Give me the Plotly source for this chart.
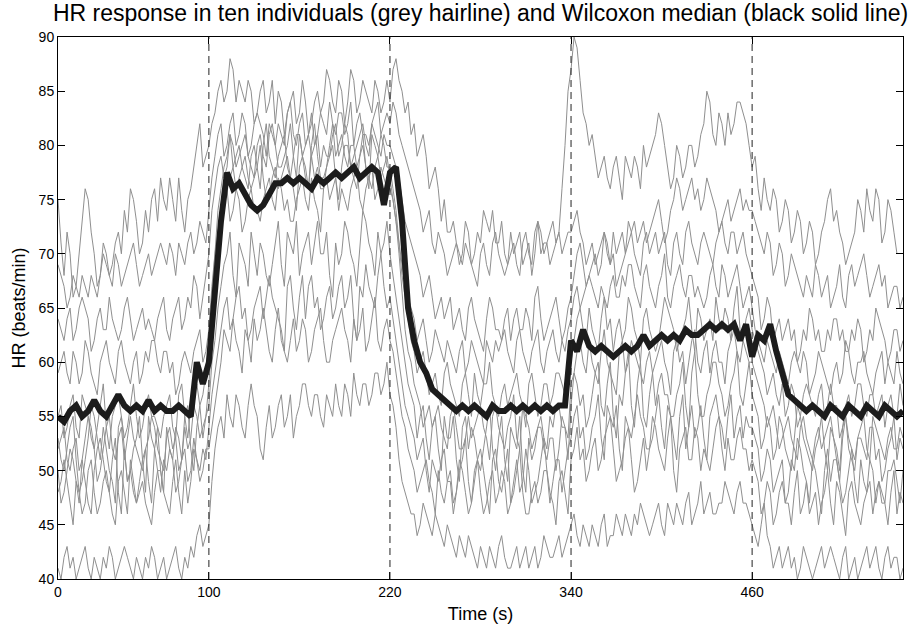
import plotly.graph_objects as go

# ---------------- data ----------------
time_s = list(range(0, 561, 2))          # individual sample times (s)
time_med = list(range(0, 561, 4))        # median sample times (s)
phase_bounds = [100, 220, 340, 460]      # dashed phase markers (s)
x_ticks = [0, 100, 220, 340, 460]
y_ticks = [40, 45, 50, 55, 60, 65, 70, 75, 80, 85, 90]

subj_a = [75, 71, 68, 72, 70, 66, 67, 70, 73, 76, 75, 72, 70, 67, 68, 71, 70, 68, 69, 71, 72, 70, 74, 72, 76, 75, 73, 70, 71, 74, 72, 75, 76, 73, 77, 75, 74, 77, 75, 73, 77, 74, 72, 75, 76, 78, 80, 82, 78, 79,
          80, 82, 83, 85, 86, 84, 85, 88, 87, 84, 86, 85, 84, 86, 85, 82, 83, 85, 86, 83, 84, 86, 82, 85, 84, 81, 83, 84, 85, 82, 83, 86, 84, 81, 82, 84, 85, 83, 84, 87, 86, 84, 83, 86, 85, 82, 84, 87, 86, 83, 84, 86, 85, 84, 83, 86, 85, 83, 84, 86,
          84, 87, 88, 86, 85, 83, 84, 81, 82, 79, 80, 81, 79, 76, 77, 78, 76, 73, 75, 72, 72, 73, 71, 69, 70, 73, 72, 69, 70, 72, 71, 74, 73, 72, 74, 71, 71, 73, 70, 69, 72, 70, 71, 72, 69, 70, 71, 68, 70, 73, 72, 70, 71, 72, 73, 71, 72, 76,
          80, 85, 87, 90, 89, 86, 83, 82, 80, 81, 79, 77, 78, 79, 77, 76, 78, 79, 77, 75, 79, 78, 77, 79, 78, 76, 80, 78, 79, 80, 81, 83, 82, 80, 78, 76, 77, 80, 79, 77, 78, 80, 80, 78, 79, 81, 82, 85, 84, 81, 80, 83, 82, 80, 83, 81, 82, 84, 84, 83,
          82, 80, 78, 79, 76, 74, 77, 75, 74, 76, 75, 72, 73, 75, 74, 71, 72, 74, 73, 70, 71, 73, 72, 69, 70, 72, 73, 75, 76, 73, 74, 72, 71, 69, 70, 71, 72, 75, 74, 72, 76, 74, 73, 76, 75, 71, 72, 75, 74, 72, 70]
subj_b = [69, 68, 67, 65, 66, 68, 67, 66, 68, 67, 66, 68, 67, 66, 68, 70, 69, 68, 67, 70, 69, 67, 68, 69, 70, 71, 69, 67, 68, 69, 70, 68, 69, 70, 71, 70, 69, 71, 70, 68, 71, 70, 69, 71, 72, 70, 71, 73, 72, 71,
          74, 77, 79, 81, 82, 79, 80, 82, 83, 80, 81, 83, 82, 79, 80, 82, 83, 82, 81, 79, 82, 81, 80, 82, 81, 80, 83, 84, 81, 80, 82, 83, 80, 81, 83, 80, 81, 83, 82, 81, 84, 82, 81, 83, 83, 81, 82, 84, 80, 82, 83, 81, 81, 80, 82, 83, 84, 81, 82, 83,
          82, 84, 83, 81, 80, 79, 78, 77, 76, 75, 74, 72, 73, 74, 71, 70, 72, 71, 70, 68, 69, 70, 71, 70, 69, 71, 70, 69, 68, 67, 70, 71, 69, 68, 71, 72, 70, 69, 68, 69, 70, 71, 69, 68, 71, 72, 70, 69, 72, 73, 70, 71, 71, 69, 70, 71, 72, 70, 71, 72,
          72, 73, 74, 72, 71, 69, 70, 71, 69, 70, 71, 72, 70, 69, 72, 70, 71, 72, 70, 71, 72, 73, 71, 72, 73, 71, 72, 73, 74, 75, 73, 71, 72, 74, 75, 77, 76, 74, 75, 76, 77, 75, 76, 74, 75, 77, 76, 75, 74, 72, 73, 74, 75, 73, 74, 75, 76, 74, 75, 74,
          74, 73, 72, 71, 70, 72, 71, 68, 69, 71, 70, 67, 68, 70, 69, 68, 67, 66, 68, 67, 66, 69, 68, 66, 67, 68, 65, 66, 67, 69, 66, 65, 68, 69, 67, 68, 69, 70, 68, 66, 67, 68, 69, 67, 68, 65, 66, 67, 67, 65, 66]
subj_c = [64, 63, 62, 64, 65, 62, 63, 65, 66, 65, 64, 61, 62, 64, 65, 63, 63, 66, 64, 63, 62, 63, 65, 66, 64, 62, 63, 64, 65, 63, 64, 63, 62, 64, 65, 66, 63, 62, 64, 65, 66, 63, 64, 66, 65, 68, 67, 64, 66, 68,
          70, 74, 76, 78, 79, 77, 78, 81, 80, 78, 79, 80, 81, 79, 78, 77, 80, 81, 79, 78, 81, 82, 80, 78, 78, 79, 80, 82, 79, 77, 81, 79, 80, 81, 79, 80, 81, 78, 80, 79, 79, 81, 82, 79, 80, 82, 81, 78, 79, 80, 81, 82, 80, 79, 82, 81, 80, 79, 81, 80,
          80, 79, 78, 77, 75, 73, 72, 71, 70, 69, 68, 66, 67, 68, 66, 64, 65, 66, 64, 65, 66, 63, 64, 65, 63, 62, 65, 66, 64, 63, 62, 61, 64, 66, 65, 63, 63, 62, 64, 65, 62, 64, 65, 63, 63, 65, 64, 62, 66, 67, 64, 62, 63, 64, 65, 66, 64, 62, 63, 65,
          66, 68, 70, 71, 69, 67, 68, 69, 70, 68, 69, 72, 71, 69, 70, 67, 68, 69, 70, 73, 72, 70, 69, 68, 71, 72, 70, 71, 72, 70, 71, 72, 69, 68, 71, 72, 70, 69, 72, 73, 71, 70, 69, 71, 72, 71, 70, 69, 71, 72, 73, 71, 70, 72, 72, 70, 71, 72, 70, 69,
          68, 67, 66, 63, 64, 66, 65, 62, 63, 64, 62, 63, 64, 62, 63, 60, 61, 63, 62, 65, 64, 62, 63, 61, 61, 63, 62, 64, 64, 62, 63, 61, 61, 63, 62, 64, 63, 60, 61, 63, 62, 65, 64, 63, 62, 60, 61, 63, 63, 61, 62]
subj_d = [59, 60, 61, 59, 58, 61, 60, 58, 59, 62, 61, 59, 58, 57, 60, 61, 62, 60, 59, 58, 61, 62, 60, 59, 58, 60, 61, 58, 59, 61, 60, 62, 62, 60, 59, 61, 61, 59, 60, 57, 58, 60, 61, 60, 59, 61, 62, 63, 60, 61,
          63, 67, 70, 72, 74, 75, 76, 73, 74, 76, 75, 72, 73, 75, 76, 74, 74, 73, 75, 76, 77, 75, 74, 77, 76, 74, 75, 73, 73, 75, 76, 77, 75, 74, 77, 75, 74, 72, 76, 77, 75, 76, 77, 74, 76, 75, 74, 76, 77, 78, 75, 74, 76, 77, 78, 75, 76, 78, 77, 76,
          76, 75, 73, 71, 69, 67, 66, 65, 64, 62, 63, 64, 62, 60, 61, 63, 62, 61, 60, 62, 61, 60, 59, 61, 62, 59, 60, 62, 61, 60, 59, 58, 62, 61, 60, 62, 61, 62, 63, 61, 60, 59, 62, 63, 61, 60, 59, 61, 62, 63, 60, 59, 61, 62, 63, 61, 60, 62, 61, 63,
          64, 66, 67, 65, 66, 67, 68, 67, 66, 65, 67, 66, 65, 67, 68, 66, 66, 68, 67, 69, 69, 67, 66, 65, 68, 69, 67, 66, 65, 67, 68, 70, 66, 65, 67, 68, 69, 67, 66, 68, 68, 66, 67, 66, 65, 66, 68, 69, 67, 66, 69, 68, 66, 67, 68, 69, 67, 65, 66, 67,
          65, 63, 62, 61, 60, 62, 61, 60, 59, 61, 60, 59, 58, 60, 61, 60, 59, 61, 60, 57, 58, 59, 61, 60, 59, 58, 57, 59, 60, 58, 59, 62, 61, 59, 58, 60, 60, 61, 59, 58, 57, 59, 60, 61, 58, 60, 59, 58, 61, 59, 58]
subj_e = [41, 40, 42, 43, 41, 42, 40, 41, 42, 43, 41, 40, 42, 41, 40, 42, 41, 43, 42, 40, 41, 42, 43, 42, 41, 40, 42, 41, 40, 42, 41, 43, 42, 40, 41, 42, 40, 41, 42, 43, 41, 40, 42, 41, 43, 42, 44, 45, 43, 44,
          45, 49, 52, 54, 55, 53, 57, 55, 54, 57, 56, 54, 53, 56, 58, 56, 55, 52, 51, 54, 56, 53, 54, 56, 57, 54, 55, 57, 53, 55, 56, 58, 58, 56, 55, 57, 57, 55, 54, 57, 56, 55, 58, 56, 55, 58, 57, 55, 59, 57, 56, 58, 58, 56, 57, 59, 59, 57, 58, 60,
          57, 56, 54, 51, 49, 48, 47, 46, 46, 44, 45, 47, 46, 45, 44, 46, 45, 44, 43, 45, 44, 43, 42, 44, 43, 42, 44, 43, 42, 41, 43, 42, 41, 43, 42, 41, 43, 44, 42, 41, 41, 42, 43, 41, 42, 43, 41, 42, 43, 41, 42, 44, 43, 42, 42, 43, 44, 42, 43, 44,
          45, 46, 44, 43, 45, 44, 43, 45, 44, 43, 45, 46, 43, 44, 44, 46, 45, 44, 46, 45, 44, 46, 45, 47, 46, 45, 44, 45, 46, 47, 45, 44, 47, 46, 45, 47, 46, 45, 47, 48, 45, 46, 47, 49, 46, 47, 48, 46, 46, 47, 47, 49, 48, 47, 46, 48, 49, 47, 47, 46,
          45, 44, 43, 45, 47, 44, 43, 41, 42, 43, 41, 42, 43, 41, 42, 40, 41, 43, 42, 41, 40, 41, 42, 43, 41, 42, 43, 42, 41, 40, 42, 43, 40, 41, 42, 40, 41, 42, 43, 41, 42, 43, 41, 40, 42, 43, 41, 42, 42, 40, 41]
subj_f = [53, 51, 50, 52, 54, 55, 51, 48, 49, 51, 53, 56, 55, 53, 51, 54, 52, 50, 49, 47, 54, 55, 52, 49, 50, 52, 53, 55, 51, 48, 55, 53, 52, 54, 50, 48, 54, 52, 51, 54, 53, 51, 55, 56, 52, 50, 54, 56, 53, 55,
          56, 60, 62, 65, 67, 69, 70, 72, 68, 66, 71, 70, 69, 67, 72, 70, 68, 71, 70, 68, 67, 69, 71, 73, 69, 67, 72, 71, 70, 73, 68, 70, 71, 72, 69, 71, 73, 70, 70, 72, 68, 66, 71, 69, 70, 73, 72, 70, 69, 67, 71, 74, 73, 71, 70, 68, 72, 70, 71, 73,
          70, 68, 66, 64, 62, 60, 58, 57, 56, 53, 55, 56, 53, 51, 54, 55, 52, 50, 55, 53, 53, 55, 51, 49, 54, 55, 52, 54, 53, 51, 50, 52, 54, 56, 52, 50, 53, 55, 51, 49, 54, 53, 52, 55, 50, 48, 53, 51, 52, 54, 54, 52, 51, 53, 53, 50, 52, 55, 54, 51,
          56, 59, 58, 56, 57, 54, 55, 57, 59, 60, 56, 55, 58, 60, 55, 53, 57, 56, 59, 61, 56, 54, 58, 60, 55, 54, 57, 59, 56, 58, 59, 57, 57, 55, 55, 57, 58, 60, 56, 54, 59, 61, 57, 55, 55, 57, 58, 60, 60, 58, 57, 55, 56, 58, 59, 61, 57, 56, 58, 60,
          57, 56, 55, 52, 53, 55, 54, 51, 52, 55, 54, 52, 51, 50, 53, 56, 55, 53, 52, 51, 50, 52, 53, 55, 52, 50, 54, 53, 51, 49, 53, 55, 52, 51, 50, 53, 53, 52, 51, 54, 54, 51, 52, 49, 50, 52, 53, 55, 51, 53, 52]
subj_g = [50, 47, 48, 50, 52, 51, 49, 47, 51, 49, 47, 46, 50, 52, 53, 51, 49, 48, 51, 53, 48, 46, 52, 49, 50, 48, 47, 49, 51, 52, 49, 47, 52, 50, 48, 51, 50, 52, 51, 48, 49, 51, 52, 49, 50, 53, 51, 50, 52, 51,
          54, 57, 59, 61, 63, 65, 66, 63, 64, 66, 67, 64, 65, 62, 63, 65, 66, 67, 64, 66, 68, 66, 65, 64, 63, 61, 67, 68, 65, 63, 66, 68, 64, 67, 68, 65, 66, 63, 64, 66, 67, 64, 65, 67, 68, 65, 66, 68, 64, 62, 67, 66, 69, 67, 66, 65, 68, 70, 67, 65,
          66, 64, 62, 60, 58, 56, 55, 54, 53, 51, 52, 53, 50, 48, 51, 50, 49, 51, 52, 49, 50, 47, 48, 50, 51, 53, 49, 47, 50, 51, 52, 50, 48, 46, 51, 52, 49, 48, 50, 52, 47, 49, 51, 48, 49, 52, 50, 47, 48, 49, 51, 53, 50, 47, 49, 51, 51, 48, 50, 52,
          53, 55, 56, 53, 54, 51, 52, 54, 55, 57, 53, 51, 56, 55, 54, 56, 52, 50, 55, 54, 53, 55, 57, 55, 54, 52, 52, 53, 55, 57, 54, 52, 56, 55, 53, 51, 55, 57, 52, 54, 56, 53, 54, 56, 53, 51, 55, 56, 57, 55, 54, 52, 55, 57, 53, 55, 56, 53, 55, 54,
          54, 53, 52, 49, 50, 52, 51, 48, 49, 50, 51, 47, 48, 51, 50, 53, 52, 50, 49, 47, 51, 50, 48, 46, 50, 52, 49, 51, 51, 49, 47, 48, 50, 52, 49, 47, 51, 49, 48, 51, 50, 47, 49, 48, 47, 50, 50, 51, 49, 47, 50]
subj_h = [48, 49, 51, 49, 47, 45, 49, 48, 46, 47, 50, 51, 48, 46, 47, 49, 50, 48, 46, 45, 49, 50, 48, 46, 51, 49, 47, 48, 49, 47, 46, 45, 48, 50, 50, 48, 47, 46, 49, 51, 48, 46, 50, 47, 49, 52, 51, 49, 50, 52,
          52, 54, 56, 58, 60, 63, 62, 61, 64, 62, 61, 59, 63, 62, 60, 64, 62, 63, 65, 63, 61, 60, 63, 65, 62, 61, 60, 62, 64, 61, 62, 64, 63, 60, 61, 63, 64, 65, 62, 60, 60, 62, 63, 64, 65, 63, 62, 60, 64, 62, 63, 65, 61, 62, 64, 66, 62, 61, 63, 64,
          62, 61, 59, 57, 55, 54, 52, 51, 50, 48, 49, 50, 51, 49, 48, 46, 50, 48, 47, 49, 49, 46, 48, 51, 50, 48, 46, 47, 49, 51, 48, 46, 47, 49, 50, 47, 48, 50, 49, 46, 47, 48, 50, 52, 48, 46, 46, 48, 49, 47, 48, 50, 50, 48, 47, 45, 49, 50, 48, 46,
          51, 52, 54, 51, 52, 49, 50, 52, 53, 50, 51, 53, 54, 55, 52, 49, 50, 51, 53, 54, 51, 48, 49, 51, 53, 50, 52, 55, 54, 52, 51, 50, 53, 55, 50, 48, 52, 53, 54, 51, 51, 54, 53, 50, 52, 51, 50, 52, 54, 55, 52, 50, 53, 51, 51, 53, 54, 52, 52, 50,
          51, 50, 49, 46, 47, 49, 48, 45, 46, 48, 49, 47, 47, 45, 48, 50, 46, 47, 49, 46, 47, 48, 45, 47, 48, 50, 47, 45, 49, 48, 46, 44, 48, 49, 47, 46, 45, 47, 48, 49, 46, 48, 49, 47, 47, 45, 48, 50, 46, 48, 47]
subj_i = [55, 56, 53, 54, 56, 57, 54, 53, 57, 56, 55, 53, 52, 54, 56, 58, 54, 52, 55, 56, 57, 55, 53, 54, 56, 58, 55, 53, 54, 56, 57, 55, 55, 54, 53, 55, 56, 57, 54, 53, 57, 58, 55, 53, 56, 57, 58, 56, 57, 59,
          62, 66, 70, 74, 76, 78, 79, 81, 78, 79, 80, 78, 77, 76, 79, 80, 78, 76, 80, 82, 79, 78, 77, 79, 80, 81, 78, 77, 79, 81, 81, 79, 78, 76, 80, 82, 79, 77, 77, 78, 80, 82, 79, 80, 81, 79, 78, 80, 80, 78, 79, 81, 78, 76, 81, 80, 79, 81, 80, 78,
          78, 76, 74, 71, 68, 66, 64, 62, 61, 59, 60, 61, 59, 57, 58, 59, 57, 56, 59, 60, 58, 57, 56, 55, 58, 59, 57, 55, 59, 57, 56, 58, 58, 60, 57, 56, 55, 57, 58, 56, 57, 58, 59, 57, 56, 54, 58, 59, 57, 55, 56, 58, 58, 56, 57, 59, 59, 58, 57, 59,
          60, 62, 64, 65, 63, 62, 65, 63, 62, 61, 64, 66, 63, 64, 61, 63, 64, 62, 63, 66, 65, 63, 62, 60, 64, 65, 63, 62, 61, 62, 64, 66, 65, 64, 63, 61, 62, 63, 64, 66, 63, 61, 65, 64, 62, 63, 64, 62, 66, 64, 63, 65, 64, 62, 65, 67, 63, 62, 64, 65,
          63, 62, 61, 60, 59, 57, 58, 59, 57, 56, 58, 55, 56, 58, 57, 54, 55, 57, 58, 57, 56, 55, 57, 58, 55, 56, 58, 56, 56, 53, 54, 56, 57, 55, 56, 58, 58, 56, 55, 57, 57, 55, 56, 57, 54, 56, 57, 55, 55, 58, 56]
subj_j = [52, 53, 54, 51, 50, 52, 53, 50, 51, 53, 55, 54, 52, 49, 50, 52, 54, 55, 52, 51, 53, 54, 51, 53, 55, 53, 52, 51, 50, 52, 53, 55, 54, 52, 51, 50, 53, 54, 52, 53, 50, 51, 54, 52, 53, 56, 55, 53, 54, 55,
          58, 62, 66, 70, 73, 75, 76, 77, 78, 76, 77, 78, 79, 77, 76, 77, 78, 80, 77, 75, 75, 77, 78, 76, 77, 78, 79, 77, 76, 74, 78, 79, 77, 76, 79, 77, 78, 76, 76, 78, 79, 80, 77, 75, 78, 80, 80, 78, 77, 76, 79, 80, 78, 77, 76, 78, 79, 77, 78, 79,
          77, 75, 73, 70, 66, 63, 61, 60, 58, 57, 56, 54, 55, 56, 54, 55, 56, 54, 53, 52, 55, 56, 54, 52, 52, 53, 55, 53, 54, 55, 56, 54, 53, 51, 55, 56, 54, 53, 52, 54, 55, 57, 53, 52, 56, 55, 54, 52, 53, 54, 55, 53, 52, 55, 54, 56, 56, 54, 54, 53,
          58, 59, 61, 62, 60, 59, 62, 60, 59, 58, 61, 63, 60, 59, 58, 57, 61, 62, 59, 60, 62, 61, 60, 59, 58, 60, 61, 59, 60, 61, 62, 60, 59, 57, 61, 62, 60, 61, 58, 60, 62, 63, 60, 59, 61, 62, 59, 61, 62, 60, 60, 58, 61, 62, 63, 61, 60, 62, 61, 60,
          60, 59, 58, 57, 56, 54, 55, 56, 54, 52, 53, 54, 55, 53, 52, 51, 54, 55, 53, 52, 51, 53, 54, 52, 53, 54, 55, 53, 52, 50, 54, 55, 53, 52, 51, 53, 54, 55, 52, 51, 55, 54, 53, 52, 51, 53, 54, 52, 52, 54, 53]

median_hr = [55.0, 54.5, 55.5, 56.0, 55.0, 55.5, 56.5, 55.5, 55.0, 56.0, 57.0, 56.0, 55.5, 56.0, 55.5, 56.5, 55.5, 56.0, 55.5, 55.5, 56.0, 55.5, 55.0, 60.0, 58.0,
             60.0, 66.0, 73.0, 77.5, 76.0, 76.5, 75.5, 74.5, 74.0, 74.5, 75.5, 76.5, 76.5, 77.0, 76.5, 77.0, 76.5, 76.0, 77.0, 76.5, 77.0, 77.5, 77.0, 77.5, 78.0, 77.0, 77.5, 78.0, 77.5, 74.5,
             77.5, 78.0, 73.0, 65.0, 62.0, 60.0, 59.0, 57.5, 57.0, 56.5, 56.0, 55.5, 56.0, 55.5, 56.0, 55.5, 55.0, 56.0, 55.5, 55.5, 56.0, 55.5, 56.0, 55.5, 56.0, 55.5, 56.0, 55.5, 56.0, 56.0,
             62.0, 61.0, 63.0, 61.5, 61.0, 61.5, 61.0, 60.5, 61.0, 61.5, 61.0, 61.5, 62.5, 61.5, 62.0, 62.5, 62.0, 62.5, 62.0, 63.0, 62.5, 62.5, 63.0, 63.5, 63.0, 63.5, 63.0, 63.5, 62.0, 63.5,
             60.5, 62.5, 62.0, 63.5, 61.0, 59.0, 57.0, 56.5, 56.0, 55.5, 56.0, 55.5, 55.0, 56.0, 55.5, 55.0, 56.0, 55.5, 55.0, 56.0, 55.5, 55.0, 56.0, 55.5, 55.0, 55.5]

subjects = [subj_a, subj_b, subj_c, subj_d, subj_e, subj_f, subj_g, subj_h, subj_i, subj_j]

# ---------------- figure ----------------
FONT = "Liberation Sans, Arial, Helvetica, sans-serif"
fig = go.Figure()

for s in subjects:
    fig.add_trace(go.Scatter(x=time_s[:len(s)], y=s, mode="lines",
                             line=dict(color="#8f8f8f", width=1),
                             showlegend=False, hoverinfo="skip"))

fig.add_trace(go.Scatter(x=time_med[:len(median_hr)], y=median_hr, mode="lines",
                         line=dict(color="#1c1c1c", width=6),
                         showlegend=False))

for b in phase_bounds:
    fig.add_shape(type="line", xref="x", yref="paper", x0=b, x1=b, y0=0, y1=1,
                  line=dict(color="#222222", width=1, dash="7px,5px"), layer="above")

fig.update_layout(
    width=911, height=628,
    margin=dict(l=58, r=8, t=37, b=49),
    paper_bgcolor="white", plot_bgcolor="white",
    font=dict(family=FONT, color="black", size=14),
    title=dict(text="HR response in ten individuals (grey hairline) and Wilcoxon median (black solid line)",
               x=0.5275, xanchor="center", yref="container", y=1 - 13 / 628, yanchor="middle",
               font=dict(size=23, family=FONT, color="black")),
)

fig.update_xaxes(range=[0, 560], tickmode="array", tickvals=x_ticks,
                 ticks="inside", ticklen=7, tickcolor="black",
                 showline=True, linecolor="black", linewidth=1, mirror="ticks",
                 showgrid=False, zeroline=False, automargin=False,
                 tickfont=dict(size=14),
                 title=dict(text="Time (s)", font=dict(size=18), standoff=8))
fig.update_yaxes(range=[40, 90], tickmode="array", tickvals=y_ticks,
                 ticks="inside", ticklen=7, tickcolor="black",
                 showline=True, linecolor="black", linewidth=1, mirror="ticks",
                 showgrid=False, zeroline=False, automargin=False,
                 tickfont=dict(size=14),
                 title=dict(text="HR (beats/min)", font=dict(size=18), standoff=8))

# the page's default 8px body margin would shift the whole figure; remove it
fig.write_html("out.html", config={"displayModeBar": False, "staticPlot": True},
               post_script="document.body.style.margin='0';document.body.style.overflow='hidden';")
